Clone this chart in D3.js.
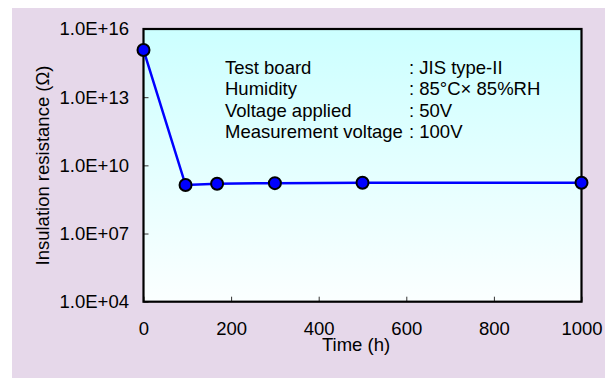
<!DOCTYPE html>
<html>
<head>
<meta charset="utf-8">
<script src="https://cdn.jsdelivr.net/npm/d3@7"></script>
<style>
    html, body { margin: 0; padding: 0; background: #ffffff; }
    svg { display: block; }
</style>
</head>
<body>
<div id="chart"></div>
<script>
// Insulation resistance vs. time (log scale)
const timeHours = [0, 96, 168, 300, 500, 1000];
const resistance = [1.2e15, 1.36e9, 1.55e9, 1.65e9, 1.72e9, 1.72e9];

const xTicks = [0, 200, 400, 600, 800, 1000];
const yTicks = [1e4, 1e7, 1e10, 1e13, 1e16];

const noteLabels = ["Test board", "Humidity", "Voltage applied", "Measurement voltage"];
const noteValues = [": JIS type-II", ": 85°C× 85%RH", ": 50V", ": 100V"];

const W = 610, H = 379;
const FONT = "'Liberation Sans', Arial, Helvetica, sans-serif";
const FS = "18.5px";
const margin = { top: 29, left: 143.5, right: 28.5, bottom: 77.3 };
const plotW = W - margin.left - margin.right;
const plotH = H - margin.top - margin.bottom;

const svg = d3.select("#chart").append("svg")
    .attr("width", W)
    .attr("height", H);

// outer lavender panel
svg.append("rect")
    .attr("x", 12).attr("y", 8)
    .attr("width", 593).attr("height", 370)
    .attr("fill", "#e6d8ea");

const grad = svg.append("defs").append("linearGradient")
    .attr("id", "plot-grad")
    .attr("x1", "0%").attr("y1", "0%")
    .attr("x2", "0%").attr("y2", "100%");
grad.append("stop").attr("offset", "0%").attr("stop-color", "#ccffff");
grad.append("stop").attr("offset", "100%").attr("stop-color", "#fbffff");

const g = svg.append("g")
    .attr("transform", `translate(${margin.left},${margin.top})`);

const x = d3.scaleLinear().domain([0, 1000]).range([0, plotW]);
const y = d3.scaleLog().domain([1e4, 1e16]).range([plotH, 0]);

// plot background
g.append("rect")
    .attr("width", plotW)
    .attr("height", plotH)
    .attr("fill", "url(#plot-grad)");

// "1.0E+16" style labels
const sciFormat = v => {
    const e = Math.round(Math.log10(v));
    return "1.0E+" + (e < 10 ? "0" + e : e);
};

// axes with inward ticks
const yAxis = g.append("g")
    .call(d3.axisLeft(y).tickValues(yTicks).tickFormat(sciFormat).tickSize(-5).tickPadding(14.5));
const xAxis = g.append("g")
    .attr("transform", `translate(0,${plotH})`)
    .call(d3.axisBottom(x).tickValues(xTicks).tickFormat(d3.format("d")).tickSize(-5).tickPadding(20));

[yAxis, xAxis].forEach(a => {
    a.select(".domain").remove();
    a.selectAll(".tick line").attr("stroke", "#333").attr("stroke-width", 1);
    a.selectAll(".tick text")
        .attr("fill", "#000")
        .attr("font-family", FONT)
        .attr("font-size", FS);
});
xAxis.selectAll(".tick text").attr("dy", "0.71em");

// frame
g.append("rect")
    .attr("width", plotW)
    .attr("height", plotH)
    .attr("fill", "none")
    .attr("stroke", "#000")
    .attr("stroke-width", 2.2);

// series
const pts = timeHours.map((t, i) => [t, resistance[i]]);
g.append("path")
    .datum(pts)
    .attr("fill", "none")
    .attr("stroke", "#0000ff")
    .attr("stroke-width", 2.5)
    .attr("d", d3.line().x(d => x(d[0])).y(d => y(d[1])));

g.selectAll(".pt")
    .data(pts)
    .enter().append("circle")
    .attr("class", "pt")
    .attr("cx", d => x(d[0]))
    .attr("cy", d => y(d[1]))
    .attr("r", 6)
    .attr("fill", "#0000ff")
    .attr("stroke", "#000")
    .attr("stroke-width", 2);

// test condition note
const note = svg.append("g")
    .attr("font-family", FONT)
    .attr("font-size", FS)
    .attr("fill", "#000");
noteLabels.forEach((t, i) => {
    note.append("text").attr("x", 225).attr("y", 74 + i * 21.3).text(t);
    note.append("text").attr("x", 409).attr("y", 74 + i * 21.3).text(noteValues[i]);
});

// axis titles
svg.append("text")
    .attr("x", 356)
    .attr("y", 351)
    .attr("text-anchor", "middle")
    .attr("font-family", FONT)
    .attr("font-size", FS)
    .text("Time (h)");

svg.append("text")
    .attr("transform", "translate(49,165.5) rotate(-90)")
    .attr("text-anchor", "middle")
    .attr("font-family", FONT)
    .attr("font-size", FS)
    .text("Insulation resistance (Ω)");
</script>
</body>
</html>
